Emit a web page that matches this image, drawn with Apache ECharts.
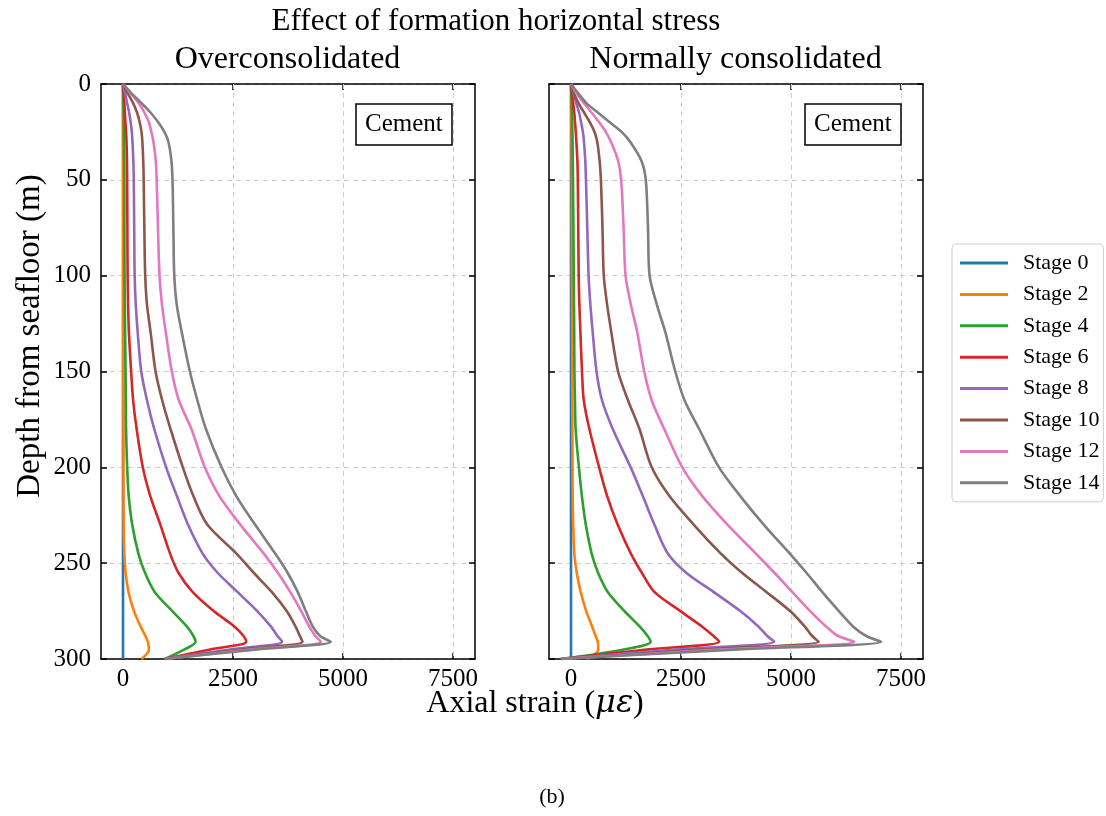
<!DOCTYPE html>
<html><head><meta charset="utf-8">
<script src="https://cdn.jsdelivr.net/npm/echarts@6/dist/echarts.min.js"></script>
<style>html,body{margin:0;padding:0;background:#fff}#c{width:1106px;height:816px}</style>
</head><body><div id="c"></div>
<script>
// ---- data ----
const depths = [0,5,10,15,20,25,30,40,50,75,100,115,130,150,165,180,200,215,230,245,255,265,275,283,288,291,295,300];
const stageNames = ['Stage 0','Stage 2','Stage 4','Stage 6','Stage 8','Stage 10','Stage 12','Stage 14'];
const stageColors = ['#1f77b4','#ff7f0e','#2ca02c','#d62728','#9467bd','#8c564b','#e377c2','#7f7f7f'];
const xTicks = [0,2500,5000,7500];
const panelTitles = ['Overconsolidated','Normally consolidated'];

// Overconsolidated
const oc_s0  = [0,0,0,0,0,0,0,0,0,0,0,0,0,0,0,0,0,0,0,0,0,0,0,0,0,0,0,0];
const oc_s2  = [0,2,3,4,5,5,5,6,6,6,7,7,8,8,9,10,10,12,15,30,60,125,250,400,510,565,590,420];
const oc_s4  = [0,5,10,15,18,20,23,27,30,32,35,40,48,58,65,70,95,130,210,350,500,720,1120,1450,1600,1650,1400,950];
const oc_s6  = [0,15,30,42,55,70,80,90,95,100,105,115,135,185,230,310,450,620,850,1070,1260,1580,2060,2530,2740,2800,1980,950];
const oc_s8  = [0,50,95,140,175,200,215,235,245,255,265,290,335,415,545,710,980,1225,1480,1810,2150,2600,3050,3360,3510,3620,2430,950];
const oc_s10 = [0,110,230,320,380,420,440,460,470,485,505,545,630,740,890,1080,1360,1600,1920,2580,2970,3380,3720,3920,4020,4080,2690,950];
const oc_s12 = [0,180,360,490,590,645,690,745,765,795,830,885,975,1110,1270,1555,1860,2190,2670,3200,3520,3800,4050,4230,4370,4500,2920,950];
const oc_s14 = [0,200,420,630,800,940,1030,1100,1125,1145,1165,1220,1340,1520,1690,1885,2240,2575,3005,3460,3740,3970,4155,4310,4480,4720,3050,950];

// Normally consolidated
const nc_s0  = [0,0,0,0,0,0,0,0,0,0,0,0,0,0,0,0,0,0,0,0,0,0,0,0,0,0,0,0];
const nc_s2  = [0,5,8,10,12,14,15,17,18,20,22,24,26,28,30,32,35,38,50,76,130,220,345,480,560,610,620,350];
const nc_s4  = [0,8,15,22,28,32,36,40,45,55,62,68,73,78,90,105,180,248,337,470,615,835,1215,1560,1740,1810,1200,-230];
const nc_s6  = [0,25,50,75,92,108,122,145,155,165,175,190,215,250,290,418,639,822,1062,1361,1609,1894,2486,2975,3240,3370,1770,-230];
const nc_s8  = [0,60,120,185,228,270,295,325,340,370,400,440,495,580,705,950,1355,1632,1897,2200,2617,3238,3848,4256,4460,4620,2440,-230];
const nc_s10 = [0,70,170,300,430,535,595,650,680,715,745,820,920,1070,1295,1556,1835,2237,2793,3406,3887,4439,4980,5310,5480,5630,3030,-230];
const nc_s12 = [0,130,295,470,640,790,905,1070,1140,1195,1240,1360,1510,1665,1834,2119,2529,2984,3561,4201,4623,5026,5434,5797,6070,6440,3476,-230];
const nc_s14 = [0,170,350,615,880,1150,1340,1600,1700,1750,1786,1950,2150,2370,2580,2913,3364,3847,4384,4973,5351,5708,6088,6410,6710,7050,3815,-230];

const panels = [
  [oc_s0, oc_s2, oc_s4, oc_s6, oc_s8, oc_s10, oc_s12, oc_s14],
  [nc_s0, nc_s2, nc_s4, nc_s6, nc_s8, nc_s10, nc_s12, nc_s14]
];

// ---- chart ----
const FONT = "'Liberation Serif','Times New Roman',serif";
const gridBoxes = [{left:101, top:84, width:374, height:575},{left:549, top:84, width:374, height:575}];
const axisLine = {show:true, onZero:false, lineStyle:{color:'#000', width:1.5}};
const tickStyle = {color:'#000', width:1.5};
const gridDash = {type:[5,4], color:'#cfcfcf', width:1};
const plain = v => String(v);

const xAxes = [], yAxes = [], series = [];
gridBoxes.forEach((g, p) => {
  xAxes.push({gridIndex:p, type:'value', min:-500, max:8000, position:'bottom',
    axisLine, axisTick:{show:true, inside:true, length:6, customValues:xTicks, lineStyle:tickStyle},
    axisLabel:{show:true, customValues:xTicks, formatter:plain, fontSize:25, fontFamily:FONT, color:'#000', margin:8},
    splitLine:{show:false}});
  xAxes.push({gridIndex:p, type:'value', min:-500, max:8000, position:'top',
    axisLine, axisTick:{show:true, inside:true, length:6, customValues:xTicks, lineStyle:tickStyle},
    axisLabel:{show:false}, splitLine:{show:false}});
  yAxes.push({gridIndex:p, type:'value', min:0, max:300, interval:50, inverse:true, position:'left',
    axisLine, axisTick:{show:true, inside:true, length:6, lineStyle:tickStyle},
    axisLabel:{show:p===0, formatter:plain, fontSize:25, fontFamily:FONT, color:'#000', margin:10},
    splitLine:{show:true, lineStyle:gridDash}});
  yAxes.push({gridIndex:p, type:'value', min:0, max:300, interval:50, inverse:true, position:'right',
    axisLine, axisTick:{show:true, inside:true, length:6, lineStyle:tickStyle},
    axisLabel:{show:false}, splitLine:{show:false}});
  series.push({type:'line', xAxisIndex:2*p, yAxisIndex:2*p, data:[], silent:true, z:1,
    markLine:{z:1, silent:true, symbol:'none', animation:false, label:{show:false}, lineStyle:gridDash,
      data: xTicks.map(v => ({xAxis:v}))}});
  panels[p].forEach((vals, k) => {
    series.push({type:'line', name:stageNames[k], xAxisIndex:2*p, yAxisIndex:2*p,
      data: depths.map((d, j) => [vals[j], d]),
      showSymbol:false, symbol:'none', smooth:0.3, z:3,
      lineStyle:{width:2.6, color:stageColors[k]}, itemStyle:{color:stageColors[k]}});
  });
});

const txt = (x, y, text, size, extra) => Object.assign({type:'text', x, y, silent:true,
  style:{text, fontSize:size, fontFamily:FONT, fill:'#000', align:'center', verticalAlign:'middle',
    textAlign:'center', textVerticalAlign:'middle'}}, extra || {});

const option = {
  animation:false,
  backgroundColor:'#fff',
  grid: gridBoxes,
  xAxis: xAxes,
  yAxis: yAxes,
  series,
  title: [
    {text:'Cement', left:356, top:104, padding:[8,9], borderColor:'#000', borderWidth:1.5,
      textStyle:{fontSize:25, fontFamily:FONT, fontWeight:'normal', color:'#000'}},
    {text:'Cement', left:805, top:104, padding:[8,9], borderColor:'#000', borderWidth:1.5,
      textStyle:{fontSize:25, fontFamily:FONT, fontWeight:'normal', color:'#000'}}
  ],
  legend: {data:stageNames, orient:'vertical', left:952, top:244, icon:'rect', itemWidth:48, itemHeight:3,
    itemGap:9.4, textStyle:{fontSize:22, fontFamily:FONT, color:'#000', padding:[0,0,0,10]},
    borderColor:'#cfcfcf', borderWidth:1, borderRadius:4, padding:[8,4,8,8]},
  graphic: [
    txt(496, 22, 'Effect of formation horizontal stress', 31),
    txt(287.5, 60, panelTitles[0], 32),
    txt(735.5, 60, panelTitles[1], 32),
    {type:'text', x:535, y:704, silent:true, style:{text:'Axial strain ({i|με})', fontSize:32, fontFamily:FONT, fill:'#000',
      align:'center', verticalAlign:'middle', textAlign:'center', textVerticalAlign:'middle',
      rich:{i:{fontStyle:'italic', fontSize:32, fontFamily:"'DejaVu Serif', serif"}}}},
    txt(30, 336, 'Depth from seafloor (m)', 33, {rotation: Math.PI/2}),
    txt(552, 797, '(b)', 22)
  ]
};
const chart = echarts.init(document.getElementById('c'), null, {renderer:'canvas'});
chart.setOption(option);
</script></body></html>
